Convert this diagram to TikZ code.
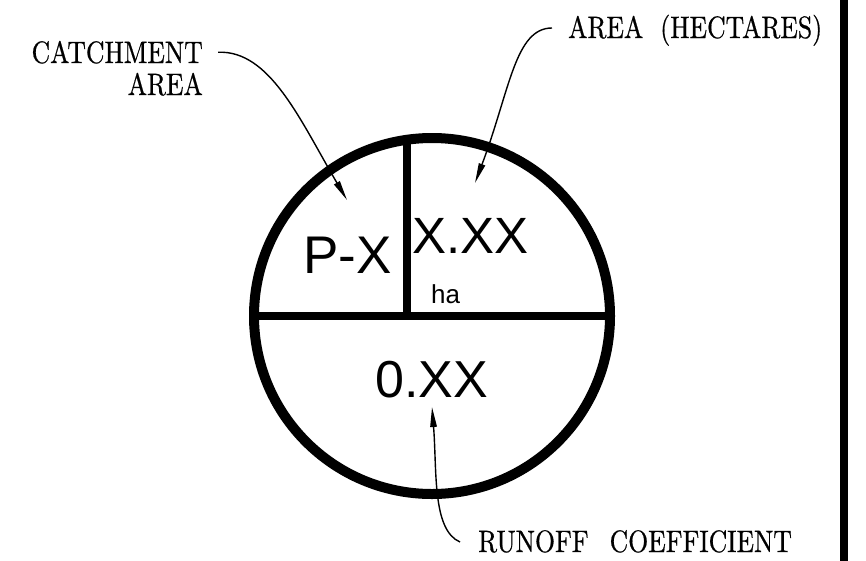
\documentclass[tikz,border=0pt]{standalone}
\usepackage{fontspec}
\usetikzlibrary{arrows.meta}
\newfontfamily\notefont{lmroman10-regular.otf}[FakeStretch=0.83,FakeBold=0.6]
\newfontfamily\cellfont{Liberation Sans}
\tikzset{note/.style={font=\notefont\fontsize{31}{32}\selectfont,inner sep=0pt},
  cell/.style={font=\cellfont\fontsize{#1}{#1}\selectfont,inner sep=0pt,anchor=base west},
  ring/.style={circle,draw,line width=10pt,minimum size=356pt,inner sep=0pt,outer sep=0pt},
  divider/.style={line width=8.5pt},
  leader/.style={-{Triangle[length=20pt,width=6.5pt]},line width=1.4pt}}

\begin{document}
\begin{tikzpicture}[x=1pt,y=-1pt]
 \useasboundingbox (0,0) rectangle (866,560);
 \node[ring] (ring) at (432,316) {};
 \draw[divider] (ring.west) -- (ring.east);
 \draw[divider] (ring.98) -- (ring.98 |- ring.center);
 \draw[line width=8pt] (844,-5) -- (844,565);
 % cell entries
 \node[cell=53] (pname) at (303,273) {P-X};
 \node[cell=51] (area) at (412,253) {X.XX};
 \node[cell=26] (unit) at (431,303) {ha};
 \node[cell=52] (coef) at (375,397) {0.XX};
 % callouts
 \node[note,anchor=base east] (catch) at (203,63) {CATCHMENT};
 \node[note,anchor=base east] (catcharea) at (203,95) {AREA};
 \node[note,anchor=base west] (hect) at (568,38) {AREA\hspace{17pt}(HECTARES)};
 \node[note,anchor=base west] (runoff) at (478,552) {RUNOFF\hspace{21pt}COEFFICIENT};
 \coordinate (pxtip) at (347,200);
 \coordinate (hatip) at (475,183);
 \coordinate (cotip) at (432,407);
 \draw[leader] ([xshift=15pt]catch.east) .. controls (270,50) and (300,120) .. (pxtip);
 \draw[leader] ([shift={(-16pt,10pt)}]hect.base west) .. controls (515,28) and (510,90) .. (hatip);
 \draw[leader] ([shift={(-18pt,10pt)}]runoff.base west) .. controls (432,530) and (437,470) .. (cotip);
\end{tikzpicture}
\end{document}
